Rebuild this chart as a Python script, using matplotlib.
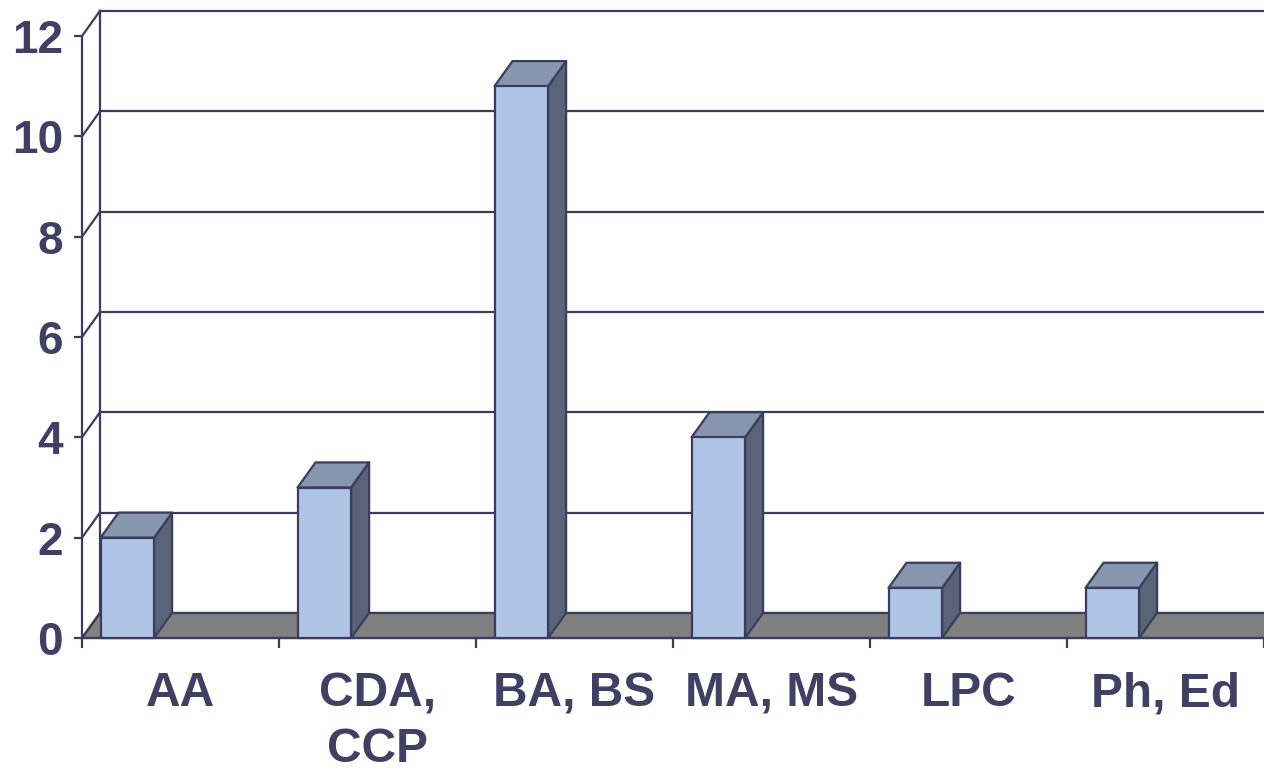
import matplotlib
matplotlib.use("Agg")
import matplotlib.pyplot as plt
from matplotlib.patches import Polygon, Rectangle
from matplotlib.ticker import FixedLocator

# Degree counts per credential
categories = ["AA", "CDA,\nCCP", "BA, BS", "MA, MS", "LPC", "Ph, Ed"]
counts = [2, 3, 11, 4, 1, 1]
y_ticks = [0, 2, 4, 6, 8, 10, 12]

# Colours of the 3D column chart
FRONT = "#b0c4e6"
TOP = "#8596ae"
SIDE = "#5a6478"
EDGE = "#3c3c5e"
TEXT = "#404062"
FLOOR = "#808080"

plt.rcParams["font.family"] = ["Liberation Sans", "DejaVu Sans"]

fig = plt.figure(figsize=(12.64, 7.72), dpi=100)
ax = fig.add_axes([82 / 1264, (772 - 638) / 772, 1182 / 1264, 602 / 772])
n = len(categories)
ax.set_xlim(0, n)
ax.set_ylim(0, 12)

# Depth of the 3D box, in data units (x: categories, y: values)
dx, dy = 18 / 197, 0.5
bar_left, bar_w = 0.094, 0.272
lw = 1.6

# Back wall gridlines and left edge of back wall
for v in y_ticks:
    ax.plot([dx, n + dx], [v + dy, v + dy], color=EDGE, lw=lw, clip_on=False, zorder=1)
ax.plot([dx, dx], [dy, 12 + dy], color=EDGE, lw=lw, clip_on=False, zorder=1)

# Floor
ax.add_patch(Polygon([(0, 0), (n + dx, 0), (n + dx, dy), (dx, dy)], closed=True,
                     facecolor=FLOOR, edgecolor=EDGE, lw=lw, clip_on=False, zorder=1.5))

# Side wall diagonals
for v in y_ticks:
    ax.plot([0, dx], [v, v + dy], color=EDGE, lw=lw, clip_on=False, zorder=1.6)

# Columns
for i, v in enumerate(counts):
    x0 = i + bar_left
    x1 = x0 + bar_w
    ax.add_patch(Polygon([(x1, 0), (x1 + dx, dy), (x1 + dx, v + dy), (x1, v)], closed=True,
                         facecolor=SIDE, edgecolor=EDGE, lw=lw, joinstyle="round",
                         clip_on=False, zorder=3))
    ax.add_patch(Polygon([(x0, v), (x1, v), (x1 + dx, v + dy), (x0 + dx, v + dy)], closed=True,
                         facecolor=TOP, edgecolor=EDGE, lw=lw, joinstyle="round",
                         clip_on=False, zorder=3))
    ax.add_patch(Rectangle((x0, 0), bar_w, v, facecolor=FRONT, edgecolor=EDGE, lw=lw,
                           joinstyle="round", clip_on=False, zorder=3.1))

# Axes, ticks and labels
for s in ["top", "right"]:
    ax.spines[s].set_visible(False)
for s in ["left", "bottom"]:
    ax.spines[s].set_color(EDGE)
    ax.spines[s].set_linewidth(lw)
    ax.spines[s].set_zorder(2)

ax.set_yticks(y_ticks)
ax.set_yticklabels([str(t) for t in y_ticks])
ax.tick_params(axis="y", direction="out", length=5.8, width=lw, color=EDGE, pad=8,
               labelsize=33, labelcolor=TEXT)
for lab in ax.get_yticklabels():
    lab.set_fontweight("bold")

ax.set_xticks(range(n + 1))
ax.set_xticklabels([])
ax.xaxis.set_minor_locator(FixedLocator([i + 0.5 for i in range(n)]))
ax.set_xticklabels(categories, minor=True)
ax.tick_params(axis="x", which="major", direction="out", length=7.5, width=lw, color=EDGE)
ax.tick_params(axis="x", which="minor", length=0, pad=24, labelsize=34.5, labelcolor=TEXT)
for lab in ax.get_xticklabels(minor=True):
    lab.set_fontweight("bold")
    lab.set_linespacing(1.3)

ax.set_facecolor("none")
fig.savefig("out.png", dpi=100, facecolor="white")
